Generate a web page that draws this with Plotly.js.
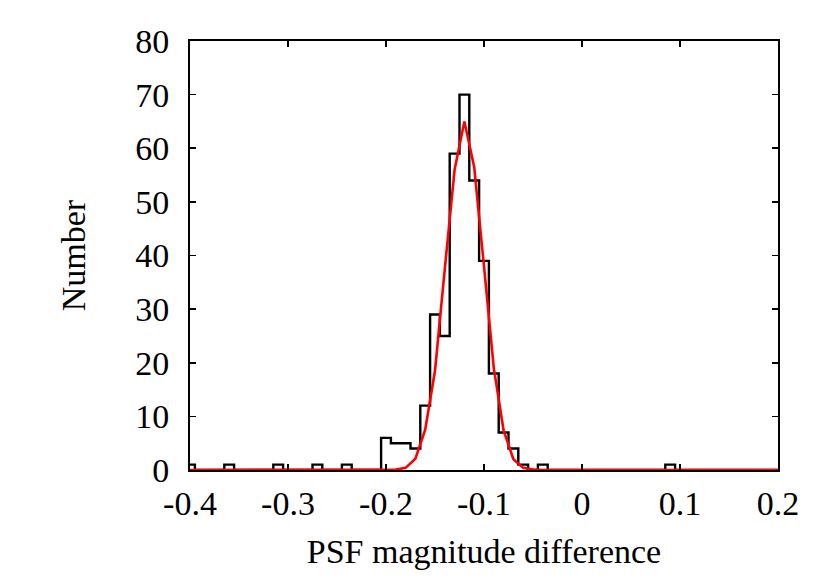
<!DOCTYPE html>
<html>
<head>
<meta charset="utf-8">
<script src="https://cdn.plot.ly/plotly-3.0.1.min.js"></script>
<style>
  html, body { margin: 0; padding: 0; background: #fff; }
  #plot { width: 830px; height: 581px; }
</style>
</head>
<body>
<div id="plot"></div>
<script>
// histogram: bin centres (width 0.01) and counts
const binCenters = [
  -0.40, -0.39, -0.38, -0.37, -0.36, -0.35, -0.34, -0.33, -0.32, -0.31,
  -0.30, -0.29, -0.28, -0.27, -0.26, -0.25, -0.24, -0.23, -0.22, -0.21,
  -0.20, -0.19, -0.18, -0.17, -0.16, -0.15, -0.14, -0.13, -0.12, -0.11,
  -0.10, -0.09, -0.08, -0.07, -0.06, -0.05, -0.04, -0.03, -0.02, -0.01,
   0.00,  0.01,  0.02,  0.03,  0.04,  0.05,  0.06,  0.07,  0.08,  0.09,
   0.10,  0.11,  0.12,  0.13,  0.14,  0.15,  0.16,  0.17,  0.18,  0.19,
   0.20
];
const binCounts = [
  1, 0, 0, 0, 1, 0, 0, 0, 0, 1,
  0, 0, 0, 1, 0, 0, 1, 0, 0, 0,
  6, 5, 5, 4, 12, 29, 25, 59, 70, 54,
  39, 18, 7, 4, 1, 0, 1, 0, 0, 0,
  0, 0, 0, 0, 0, 0, 0, 0, 0, 1,
  0, 0, 0, 0, 0, 0, 0, 0, 0, 0,
  0
];

// gaussian fit curve
const fitX = [-0.40, -0.20, -0.19, -0.18, -0.17, -0.16, -0.15, -0.14, -0.13, -0.12,
              -0.11, -0.10, -0.09, -0.08, -0.07, -0.06, -0.05, -0.04, 0.20];
const fitY = [0, 0, 0.1, 0.4, 2.1, 7.5, 18.5, 37.5, 56, 65,
              56.5, 38, 19, 7.4, 2, 0.4, 0.1, 0, 0];

const xTickVals = [-0.4, -0.3, -0.2, -0.1, 0, 0.1, 0.2];
const xTickText = ['-0.4', '-0.3', '-0.2', '-0.1', '0', '0.1', '0.2'];
const yTickVals = [0, 10, 20, 30, 40, 50, 60, 70, 80];

const serif = 'Liberation Serif';
const fsize = 34;

const data = [
  {
    x: binCenters,
    y: binCounts,
    mode: 'lines',
    line: { shape: 'hvh', color: '#000', width: 2.4 },
    showlegend: false
  },
  {
    x: fitX,
    y: fitY,
    mode: 'lines',
    line: { color: '#ff0000', width: 2.6 },
    showlegend: false
  }
];

const axisCommon = {
  showgrid: false,
  zeroline: false,
  showline: true,
  linecolor: '#000',
  linewidth: 2,
  mirror: 'ticks',
  ticks: 'inside',
  ticklen: 6,
  tickwidth: 1.6,
  tickcolor: '#000',
  tickfont: { family: serif, size: fsize, color: '#000' }
};

const layout = {
  width: 830,
  height: 581,
  margin: { l: 190, r: 52, t: 41, b: 111 },
  paper_bgcolor: '#fff',
  plot_bgcolor: '#fff',
  font: { family: serif, color: '#000' },
  xaxis: Object.assign({}, axisCommon, {
    range: [-0.4, 0.2],
    tickmode: 'array',
    tickvals: xTickVals,
    ticktext: xTickText,
    ticklabelstandoff: 2,
    title: { text: 'PSF magnitude difference', font: { family: serif, size: fsize, color: '#000' }, standoff: 18 }
  }),
  yaxis: Object.assign({}, axisCommon, {
    range: [0, 80],
    tickmode: 'array',
    tickvals: yTickVals,
    ticklabelstandoff: 12,
    title: { text: 'Number', font: { family: serif, size: fsize, color: '#000' }, standoff: 39 }
  })
};

Plotly.newPlot('plot', data, layout, { staticPlot: true });
</script>
</body>
</html>
